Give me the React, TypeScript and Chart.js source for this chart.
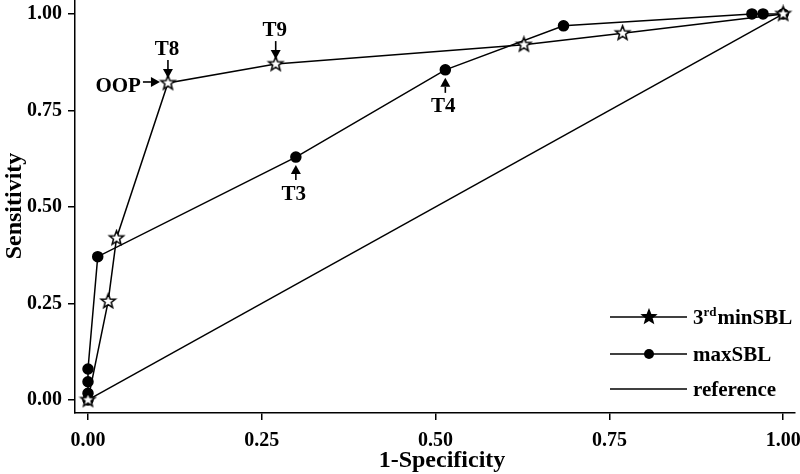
import React, { useEffect, useRef } from "react";
import { Chart, registerables } from "chart.js";

Chart.register(...registerables);

const minSBL_x = [0, 0.029, 0.041, 0.115, 0.27, 0.627, 0.769, 1.0];
const minSBL_y = [0, 0.255, 0.419, 0.821, 0.87, 0.92, 0.95, 1.0];
const maxSBL_x = [0, 0, 0, 0, 0.014, 0.299, 0.514, 0.684, 0.955, 0.971, 1.0];
const maxSBL_y = [0, 0.017, 0.047, 0.08, 0.371, 0.629, 0.855, 0.969, 1.0, 1.0, 1.0];
const ref_x = [0, 1];
const ref_y = [0, 1];
const tickValues = [0, 0.25, 0.5, 0.75, 1.0];
const seriesLabels = ["3rdminSBL", "maxSBL", "reference"];

// annotations: label, data point, direction of arrow (pointing to the point)
const annLabels = ["T8", "T9", "OOP", "T3", "T4"];
const annX = [0.115, 0.27, 0.115, 0.299, 0.514];
const annY = [0.821, 0.87, 0.821, 0.629, 0.855];
const annDir = ["down", "down", "right", "up", "up"];

const FONT = "'Liberation Serif', 'Times New Roman', serif";

function makeStar(fill: string, outer: number, inner: number) {
  const c = document.createElement("canvas");
  const s = Math.ceil(outer * 2 + 4);
  c.width = s;
  c.height = s;
  const ctx = c.getContext("2d")!;
  const cx = s / 2, cy = s / 2;
  ctx.beginPath();
  for (let i = 0; i < 10; i++) {
    const r = i % 2 === 0 ? outer : inner;
    const a = -Math.PI / 2 + (i * Math.PI) / 5;
    const px = cx + r * Math.cos(a);
    const py = cy + r * Math.sin(a);
    if (i === 0) ctx.moveTo(px, py);
    else ctx.lineTo(px, py);
  }
  ctx.closePath();
  ctx.fillStyle = fill;
  ctx.fill();
  ctx.strokeStyle = "#000";
  ctx.lineWidth = 1.5;
  ctx.stroke();
  return c;
}

function arrow(ctx: CanvasRenderingContext2D, x1: number, y1: number, x2: number, y2: number) {
  const ang = Math.atan2(y2 - y1, x2 - x1);
  const hl = 9, hw = 5;
  const bx = x2 - hl * Math.cos(ang);
  const by = y2 - hl * Math.sin(ang);
  ctx.beginPath();
  ctx.moveTo(x1, y1);
  ctx.lineTo(bx, by);
  ctx.lineWidth = 1.6;
  ctx.strokeStyle = "#000";
  ctx.stroke();
  ctx.beginPath();
  ctx.moveTo(x2, y2);
  ctx.lineTo(bx + hw * Math.sin(ang), by - hw * Math.cos(ang));
  ctx.lineTo(bx - hw * Math.sin(ang), by + hw * Math.cos(ang));
  ctx.closePath();
  ctx.fillStyle = "#000";
  ctx.fill();
}

export default function App() {
  const ref = useRef<HTMLCanvasElement>(null);
  useEffect(() => {
    document.body.style.margin = "0";
    const starPlot = makeStar("#fff", 7.5, 3.2);
    const starLegend = makeStar("#000", 7, 3);

    const extras = {
      id: "extras",
      afterDraw(chart: any) {
        const ctx: CanvasRenderingContext2D = chart.ctx;
        const xs = chart.scales.x, ys = chart.scales.y;
        ctx.save();
        ctx.fillStyle = "#000";
        ctx.textAlign = "center";
        ctx.textBaseline = "middle";
        ctx.font = `bold 21px ${FONT}`;
        for (let i = 0; i < annLabels.length; i++) {
          const px = xs.getPixelForValue(annX[i]);
          const py = ys.getPixelForValue(annY[i]);
          const d = annDir[i];
          if (d === "down") {
            arrow(ctx, px, py - 23, px, py - 5);
            ctx.fillText(annLabels[i], px - 1, py - 33);
          } else if (d === "up") {
            arrow(ctx, px, py + 23, px, py + 8);
            ctx.fillText(annLabels[i], px - 2, py + 37);
          } else {
            arrow(ctx, px - 25, py - 1, px - 8, py - 1);
            ctx.textAlign = "right";
            ctx.fillText(annLabels[i], px - 27, py + 4);
            ctx.textAlign = "center";
          }
        }
        // legend
        const lx1 = 610, lx2 = 687, mx = 649, tx = 693;
        const ly = [317, 354, 389];
        ctx.textAlign = "left";
        for (let i = 0; i < 3; i++) {
          ctx.beginPath();
          ctx.moveTo(lx1, ly[i]);
          ctx.lineTo(lx2, ly[i]);
          ctx.lineWidth = 1.5;
          ctx.strokeStyle = "#000";
          ctx.stroke();
          if (i === 0) {
            ctx.drawImage(starLegend, mx - starLegend.width / 2, ly[i] - starLegend.height / 2);
          } else if (i === 1) {
            ctx.beginPath();
            ctx.arc(mx, ly[i], 5, 0, Math.PI * 2);
            ctx.fill();
          }
          ctx.font = `bold 21px ${FONT}`;
          if (i === 0) {
            const lab = seriesLabels[0];
            const a = lab.slice(0, 1), sup = lab.slice(1, 3), rest = lab.slice(3);
            ctx.fillText(a, tx, ly[i] + 2);
            let w = ctx.measureText(a).width;
            ctx.font = `bold 13px ${FONT}`;
            ctx.fillText(sup, tx + w, ly[i] - 4);
            w += ctx.measureText(sup).width + 1;
            ctx.font = `bold 21px ${FONT}`;
            ctx.fillText(rest, tx + w, ly[i] + 2);
          } else {
            ctx.fillText(seriesLabels[i], tx, ly[i] + 2);
          }
        }
        // axis titles
        ctx.font = `bold 24px ${FONT}`;
        ctx.textAlign = "center";
        ctx.fillText("1-Specificity", 442, 461);
        ctx.translate(15, 206);
        ctx.rotate(-Math.PI / 2);
        ctx.fillText("Sensitivity", 0, 0);
        ctx.restore();
      },
    };

    const toPts = (xs: number[], ys: number[]) => xs.map((x, i) => ({ x, y: ys[i] }));

    const chart = new Chart(ref.current!, {
      type: "scatter",
      data: {
        datasets: [
          {
            label: seriesLabels[0],
            data: toPts(minSBL_x, minSBL_y),
            showLine: true,
            borderColor: "#000",
            borderWidth: 1.5,
            pointStyle: starPlot as any,
            pointRadius: 7,
            backgroundColor: "#000",
          },
          {
            label: seriesLabels[1],
            data: toPts(maxSBL_x, maxSBL_y),
            showLine: true,
            borderColor: "#000",
            borderWidth: 1.5,
            pointStyle: "circle",
            pointRadius: 5,
            pointBackgroundColor: "#000",
            pointBorderColor: "#000",
            backgroundColor: "#000",
          },
          {
            label: seriesLabels[2],
            data: toPts(ref_x, ref_y),
            showLine: true,
            borderColor: "#000",
            borderWidth: 1.5,
            pointRadius: 0,
          },
        ],
      },
      options: {
        animation: false,
        responsive: false,
        maintainAspectRatio: false,
        layout: { autoPadding: false, padding: { left: 0, right: 5, top: 0, bottom: 0 } },
        plugins: { legend: { display: false }, tooltip: { enabled: false } },
        elements: { line: { tension: 0 } },
        clip: false as any,
        scales: {
          x: {
            type: "linear",
            min: -0.0187,
            max: 1.017,
            afterBuildTicks: (s: any) => {
              s.ticks = tickValues.map((v) => ({ value: v }));
            },
            afterFit: (s: any) => {
              s.height = 61;
              s.paddingLeft = 0;
              s.paddingRight = 0;
              s.paddingTop = 0;
              s.paddingBottom = 0;
            },
            grid: { display: true, drawOnChartArea: false, drawTicks: true, tickLength: 7, color: "#000", lineWidth: 1.5 },
            border: { display: true, color: "#000", width: 1.5 },
            ticks: {
              color: "#000",
              padding: 9,
              maxRotation: 0,
              autoSkip: false,
              font: { family: FONT, size: 20, weight: "bold" },
              callback: (v: any) => Number(v).toFixed(2),
            },
          },
          y: {
            type: "linear",
            min: -0.034,
            max: 1.036,
            afterBuildTicks: (s: any) => {
              s.ticks = tickValues.map((v) => ({ value: v }));
            },
            afterFit: (s: any) => {
              s.width = 75;
              s.paddingLeft = 0;
              s.paddingRight = 0;
              s.paddingTop = 0;
              s.paddingBottom = 0;
            },
            grid: { display: true, drawOnChartArea: false, drawTicks: true, tickLength: 7, color: "#000", lineWidth: 1.5 },
            border: { display: true, color: "#000", width: 1.5 },
            ticks: {
              color: "#000",
              padding: 6,
              autoSkip: false,
              font: { family: FONT, size: 20, weight: "bold" },
              callback: (v: any) => Number(v).toFixed(2),
            },
          },
        },
      },
      plugins: [extras],
    });
    return () => chart.destroy();
  }, []);
  return <canvas ref={ref} width={800} height={474} style={{ display: "block" }} />;
}
